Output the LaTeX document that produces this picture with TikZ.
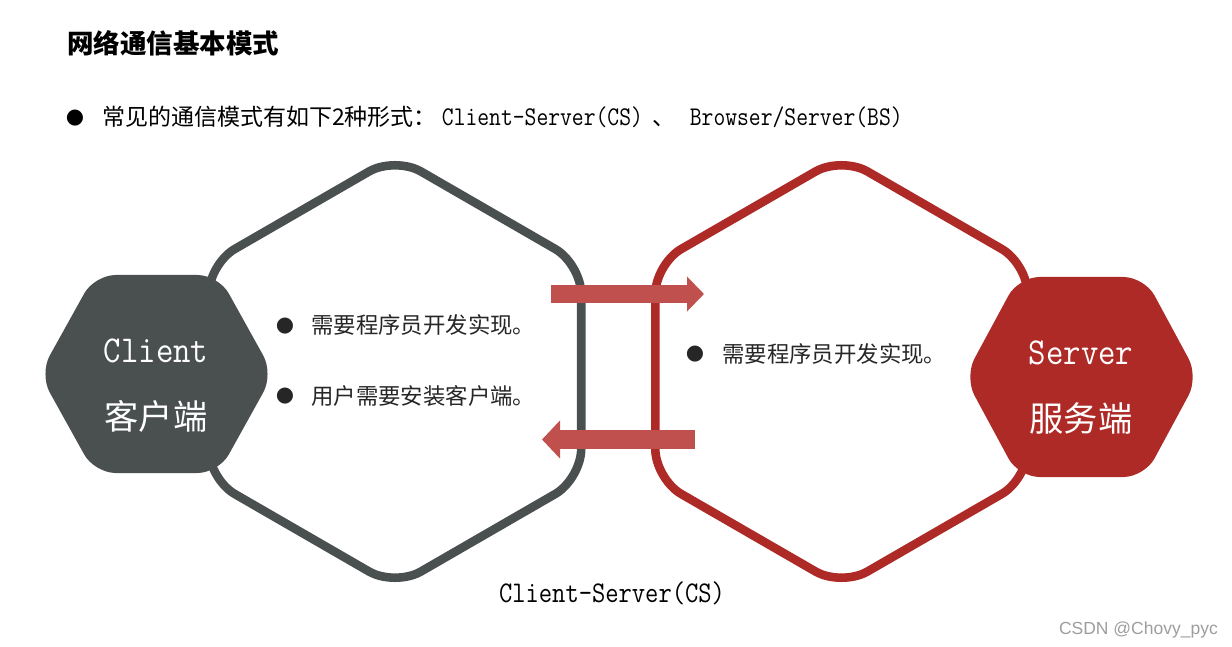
\documentclass[tikz,border=0pt]{standalone}
\usepackage{fontspec}
\usetikzlibrary{arrows.meta}
\newfontfamily\cjk{Noto Sans CJK SC}
\newfontfamily\dvs{DejaVu Sans}
\newfontfamily\wmfont{Liberation Sans}
\definecolor{cgray}{HTML}{4A5050}
\definecolor{cred}{HTML}{AD2A27}
\definecolor{carrow}{HTML}{C0504D}
\definecolor{textdark}{HTML}{262626}
\newcommand\sqz[2]{\scalebox{#1}[1]{\ttfamily #2}}
\newcommand\fs[1]{\fontsize{#1}{#1}\selectfont}
\begin{document}
\begin{tikzpicture}[x=1pt,y=-1pt,
  bighex/.style={line width=8.6pt, rounded corners=30pt},
  smallhex/.style={rounded corners=21pt},
  flowr/.style={draw=carrow, line width=18pt, -{Triangle[length=17pt,width=34pt]}},
  flowl/.style={draw=carrow, line width=19pt, -{Triangle[length=18pt,width=37pt]}},
  txt/.style={inner sep=0pt, anchor=base west, text=textdark},
  bul/.style={inner sep=0pt, anchor=center, text=textdark, font=\dvs\fs{21}},
  hexlabel/.style={inner sep=0pt, anchor=base, text=white}]
\fill[white] (0,0) rectangle (1232,647);
\useasboundingbox (0,0) rectangle (1232,647);

% title and intro line
\node[txt, text=black, font=\cjk\bfseries\fs{26.5}] (title) at (67,54) {网络通信基本模式};
\node[bul, text=black] (b0) at (75,118) {●};
\node[txt, text=black, font=\fs{23}] (intro) at (102,126)
  {{\cjk 常见的通信模式有如下2种形式：}\hspace{5pt}\sqz{0.85}{\fs{27}Client-Server(CS)}\hspace{10pt}{\cjk 、}\hspace{14pt}\sqz{0.85}{\fs{27}Browser/Server(BS)}};

% big hexagons
\begin{scope}[shift={(395,371.5)}]
\draw[bighex, draw=cgray] (0:186.2pt) -- (30:215pt) -- (90:215pt) -- (150:215pt) -- (210:215pt) -- (270:215pt) -- (330:215pt) -- cycle;
\end{scope}
\begin{scope}[shift={(841.5,371.5)}]
\draw[bighex, draw=cred] (0:186.2pt) -- (30:215pt) -- (90:215pt) -- (150:215pt) -- (210:215pt) -- (270:215pt) -- (330:215pt) -- cycle;
\end{scope}

% arrows
\coordinate (r1) at (551,294);
\coordinate (r2) at (704,294);
\coordinate (l1) at (695,439.5);
\coordinate (l2) at (542,439.5);
\draw[flowr] (r1) -- (r2);
\draw[flowl] (l1) -- (l2);

% small hexagons
\begin{scope}[shift={(156.5,374)}]
\fill[smallhex, cgray] (0,-99) -- (62,-99) -- (117,0) -- (62,99) -- (-62,99) -- (-117,0) -- (-62,-99) -- cycle;
\end{scope}
\begin{scope}[shift={(1081.5,377)}]
\fill[smallhex, cred] (0,-100) -- (63,-100) -- (117,0) -- (63,100) -- (-63,100) -- (-117,0) -- (-63,-100) -- cycle;
\end{scope}

\node[hexlabel, font=\fs{38}] (client) at (156,362) {\sqz{0.89}{Client}};
\node[hexlabel, font=\cjk\fs{34.3}] (clientzh) at (156,429) {客户端};
\node[hexlabel, font=\fs{38}] (server) at (1081,364) {\sqz{0.89}{Server}};
\node[hexlabel, font=\cjk\fs{34.3}] (serverzh) at (1081,431) {服务端};

% bullet texts
\node[bul] (b1) at (285,326) {●};
\node[txt, font=\cjk\fs{22.4}] (t1) at (311,333) {需要程序员开发实现。};
\node[bul] (b2) at (285,396) {●};
\node[txt, font=\cjk\fs{22.4}] (t2) at (311,404) {用户需要安装客户端。};
\node[bul] (b3) at (695,354) {●};
\node[txt, font=\cjk\fs{22.4}] (t3) at (722,362) {需要程序员开发实现。};

% caption
\node[inner sep=0pt, anchor=base, text=black, font=\fs{30}] (cap) at (612,602) {\sqz{0.86}{Client-Server(CS)}};

% watermark
\node[inner sep=0pt, anchor=base east, text=black!38, font=\wmfont\fs{17.5}] (wm) at (1218,634) {CSDN @Chovy\_pyc};
\end{tikzpicture}
\end{document}
